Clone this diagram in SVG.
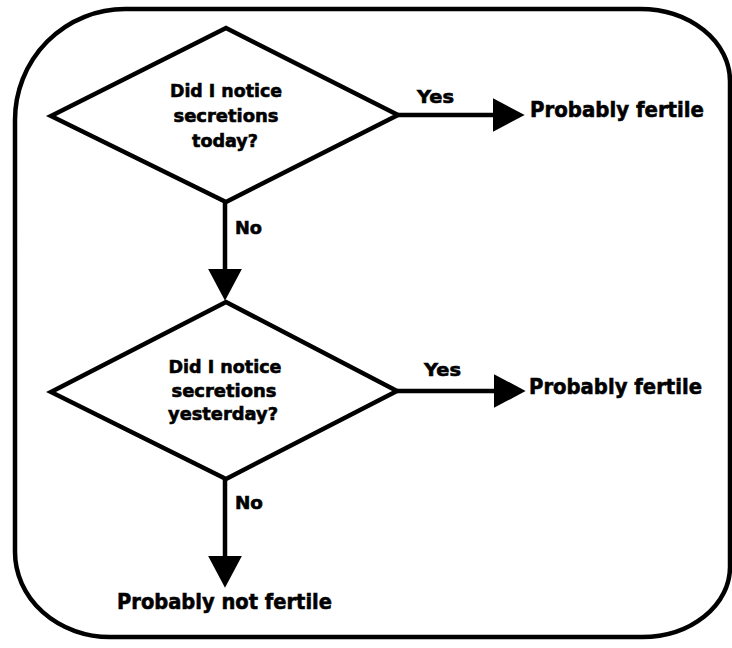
<svg xmlns="http://www.w3.org/2000/svg" width="732" height="648" viewBox="0 0 732 648">
  <style>
    .frame { fill: none; stroke: #000; stroke-width: 4.5; }
    .shape { fill: #fff; stroke: #000; stroke-width: 4.5; stroke-linejoin: miter; }
    .conn { fill: none; stroke: #000; stroke-width: 4.5; }
    text { font-family: "DejaVu Sans", "Liberation Sans", Arial, sans-serif; font-weight: bold; fill: #000; stroke: #000; stroke-width: 0.6; }
    .q { font-size: 18px; text-anchor: middle; }
    .lbl { font-size: 18px; }
    .res { font-size: 21.5px; }
  </style>
  <defs>
    <marker id="arrow" markerUnits="userSpaceOnUse" markerWidth="32" markerHeight="34" viewBox="0 0 30 32" refX="20" refY="16" orient="auto">
      <path d="M0,0 L30,16 L0,32 Z" fill="#000"/>
    </marker>
  </defs>
  <rect width="732" height="648" fill="#fff"/>
  <path id="frame" class="frame" d="M 125 9 H 640 A 90 72 0 0 1 730 81 V 567 A 88 70 0 0 1 642 637 H 110 A 95 85 0 0 1 15 552 V 120 A 110 111 0 0 1 125 9 Z"/>

  <g id="q1">
    <polygon class="shape" points="51,116 226,28 398,115 226,202"/>
    <text class="q" x="226" y="97" textLength="112" lengthAdjust="spacingAndGlyphs">Did I notice</text>
    <text class="q" x="226" y="122" textLength="105" lengthAdjust="spacingAndGlyphs">secretions</text>
    <text class="q" x="225" y="147" textLength="66" lengthAdjust="spacingAndGlyphs">today?</text>
  </g>

  <g id="q2">
    <polygon class="shape" points="51,392 226,302 397,391 226,479"/>
    <text class="q" x="225" y="373" textLength="113" lengthAdjust="spacingAndGlyphs">Did I notice</text>
    <text class="q" x="224" y="397" textLength="105" lengthAdjust="spacingAndGlyphs">secretions</text>
    <text class="q" x="223" y="420" textLength="110" lengthAdjust="spacingAndGlyphs">yesterday?</text>
  </g>

  <g id="r1">
    <text class="res" x="530" y="117" textLength="174" lengthAdjust="spacingAndGlyphs">Probably fertile</text>
  </g>
  <g id="r2">
    <text class="res" x="529" y="394" textLength="173" lengthAdjust="spacingAndGlyphs">Probably fertile</text>
  </g>
  <g id="r3">
    <text class="res" x="117" y="609" textLength="215" lengthAdjust="spacingAndGlyphs">Probably not fertile</text>
  </g>

  <g id="connectors">
    <line class="conn" x1="225" y1="202" x2="225" y2="290" marker-end="url(#arrow)"/>
    <line class="conn" x1="398" y1="115" x2="514" y2="115" marker-end="url(#arrow)"/>
    <line class="conn" x1="397" y1="391" x2="515" y2="391" marker-end="url(#arrow)"/>
    <line class="conn" x1="225" y1="479" x2="225" y2="577" marker-end="url(#arrow)"/>
    <text class="lbl" x="235" y="234" textLength="27" lengthAdjust="spacingAndGlyphs">No</text>
    <text class="lbl" x="417" y="103" textLength="37" lengthAdjust="spacingAndGlyphs">Yes</text>
    <text class="lbl" x="424" y="376" textLength="37" lengthAdjust="spacingAndGlyphs">Yes</text>
    <text class="lbl" x="235" y="509" textLength="28" lengthAdjust="spacingAndGlyphs">No</text>
  </g>
</svg>
